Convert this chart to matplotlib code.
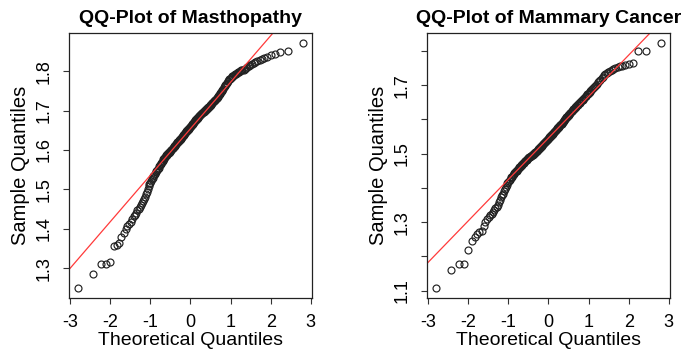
import numpy as np
import matplotlib
matplotlib.use("Agg")
import matplotlib.pyplot as plt
from statistics import NormalDist

plt.rcParams['font.family'] = ['Liberation Sans', 'DejaVu Sans']

# sorted sample values (n = 200 each)
masto_sample = [
    1.249, 1.284, 1.311, 1.311, 1.315, 1.356, 1.359, 1.363, 1.378, 1.388,
    1.399, 1.407, 1.413, 1.418, 1.424, 1.432, 1.436, 1.441, 1.448, 1.451,
    1.455, 1.460, 1.465, 1.470, 1.475, 1.480, 1.487, 1.494, 1.501, 1.508,
    1.513, 1.517, 1.521, 1.525, 1.529, 1.533, 1.537, 1.540, 1.543, 1.546,
    1.549, 1.552, 1.555, 1.558, 1.561, 1.564, 1.567, 1.570, 1.573, 1.576,
    1.578, 1.580, 1.582, 1.584, 1.586, 1.588, 1.590, 1.591, 1.593, 1.594,
    1.596, 1.597, 1.599, 1.601, 1.602, 1.604, 1.606, 1.607, 1.609, 1.611,
    1.613, 1.615, 1.616, 1.618, 1.619, 1.621, 1.622, 1.624, 1.626, 1.627,
    1.629, 1.631, 1.632, 1.634, 1.636, 1.637, 1.639, 1.640, 1.642, 1.643,
    1.645, 1.647, 1.648, 1.650, 1.651, 1.653, 1.654, 1.656, 1.658, 1.659,
    1.661, 1.662, 1.664, 1.665, 1.667, 1.668, 1.670, 1.672, 1.674, 1.675,
    1.676, 1.678, 1.679, 1.681, 1.682, 1.683, 1.685, 1.686, 1.688, 1.689,
    1.690, 1.692, 1.693, 1.695, 1.696, 1.697, 1.699, 1.700, 1.701, 1.702,
    1.703, 1.704, 1.706, 1.707, 1.709, 1.710, 1.712, 1.714, 1.715, 1.717,
    1.718, 1.720, 1.721, 1.723, 1.725, 1.726, 1.728, 1.730, 1.731, 1.733,
    1.735, 1.737, 1.739, 1.742, 1.744, 1.747, 1.750, 1.753, 1.756, 1.759,
    1.762, 1.765, 1.768, 1.771, 1.774, 1.776, 1.779, 1.781, 1.783, 1.785,
    1.787, 1.789, 1.791, 1.793, 1.794, 1.796, 1.797, 1.799, 1.800, 1.802,
    1.803, 1.804, 1.806, 1.808, 1.811, 1.814, 1.816, 1.818, 1.821, 1.824,
    1.827, 1.829, 1.832, 1.834, 1.837, 1.841, 1.844, 1.848, 1.851, 1.872,
]

cancer_sample = [
    1.107, 1.161, 1.178, 1.178, 1.219, 1.245, 1.258, 1.266, 1.271, 1.275,
    1.290, 1.300, 1.308, 1.315, 1.320, 1.324, 1.330, 1.335, 1.340, 1.345,
    1.351, 1.358, 1.366, 1.372, 1.378, 1.383, 1.390, 1.396, 1.402, 1.408,
    1.413, 1.417, 1.421, 1.424, 1.428, 1.431, 1.433, 1.437, 1.440, 1.443,
    1.446, 1.448, 1.450, 1.452, 1.455, 1.457, 1.460, 1.462, 1.464, 1.466,
    1.468, 1.470, 1.472, 1.474, 1.476, 1.478, 1.480, 1.481, 1.483, 1.485,
    1.486, 1.487, 1.489, 1.490, 1.491, 1.492, 1.494, 1.495, 1.496, 1.497,
    1.499, 1.500, 1.501, 1.503, 1.505, 1.506, 1.508, 1.509, 1.511, 1.513,
    1.514, 1.516, 1.517, 1.519, 1.520, 1.522, 1.523, 1.525, 1.527, 1.528,
    1.530, 1.531, 1.533, 1.534, 1.536, 1.537, 1.539, 1.540, 1.542, 1.543,
    1.546, 1.548, 1.550, 1.551, 1.553, 1.554, 1.556, 1.557, 1.559, 1.560,
    1.562, 1.564, 1.565, 1.567, 1.568, 1.570, 1.572, 1.574, 1.575, 1.577,
    1.579, 1.581, 1.583, 1.585, 1.587, 1.588, 1.590, 1.592, 1.594, 1.596,
    1.598, 1.600, 1.602, 1.604, 1.606, 1.608, 1.610, 1.612, 1.614, 1.617,
    1.619, 1.620, 1.622, 1.624, 1.626, 1.628, 1.630, 1.632, 1.634, 1.635,
    1.637, 1.639, 1.641, 1.643, 1.645, 1.647, 1.649, 1.651, 1.654, 1.656,
    1.658, 1.661, 1.663, 1.665, 1.668, 1.670, 1.673, 1.675, 1.677, 1.680,
    1.684, 1.687, 1.690, 1.693, 1.696, 1.699, 1.702, 1.705, 1.709, 1.713,
    1.716, 1.720, 1.725, 1.730, 1.733, 1.735, 1.739, 1.743, 1.745, 1.747,
    1.749, 1.752, 1.755, 1.756, 1.758, 1.761, 1.765, 1.800, 1.800, 1.824,
]

# reference lines (intercept, slope) as drawn in the picture
masto_line = (1.654, 0.118)
cancer_line = (1.546, 0.121)

titles = ["QQ-Plot of Masthopathy", "QQ-Plot of Mammary Cancer"]
x_ticks = [-3, -2, -1, 0, 1, 2, 3]
masto_yticks = [1.3, 1.4, 1.5, 1.6, 1.7, 1.8]
masto_ylabels = ["1.3", "1.4", "1.5", "1.6", "1.7", "1.8"]
cancer_yticks = [1.1, 1.2, 1.3, 1.4, 1.5, 1.6, 1.7, 1.8]
cancer_ylabels = ["1.1", "", "1.3", "", "1.5", "", "1.7", ""]


def theoretical(n):
    # same plotting positions as R's ppoints for n > 10
    nd = NormalDist()
    return np.array([nd.inv_cdf((i - 0.5) / n) for i in range(1, n + 1)])


def r_range(v):
    lo, hi = min(v), max(v)
    pad = 0.04 * (hi - lo)
    return lo - pad, hi + pad


def qq_panel(ax, sample, line, title, yticks, ylabels):
    y = np.array(sample)
    x = theoretical(len(y))
    ax.plot(x, y, linestyle='none', marker='o', markersize=5,
            markerfacecolor='none', markeredgecolor='#222222',
            markeredgewidth=0.85)
    ax.axline((0, line[0]), slope=line[1], color='#ff3a3a', lw=0.9)
    ax.set_xlim(*r_range(x))
    ax.set_ylim(*r_range(y))
    ax.set_xticks(x_ticks)
    ax.set_xticklabels([str(t) for t in x_ticks])
    ax.set_yticks(yticks)
    ax.set_yticklabels(ylabels, rotation=90, va='center')
    ax.tick_params(direction='out', length=4.5, width=0.8, labelsize=13,
                   pad=7, color='#333333')
    for s in ax.spines.values():
        s.set_linewidth(0.9)
        s.set_color('#222222')
    ax.set_title(title, fontsize=14, fontweight='bold', pad=7)
    ax.set_xlabel("Theoretical Quantiles", fontsize=14, labelpad=1)
    ax.set_ylabel("Sample Quantiles", fontsize=14.5, labelpad=4)


fig = plt.figure(figsize=(6.88, 3.61), dpi=100)
ax1 = fig.add_axes([69 / 688, 63 / 361, 243 / 688, 265 / 361])
ax2 = fig.add_axes([427 / 688, 63 / 361, 243 / 688, 265 / 361])

qq_panel(ax1, masto_sample, masto_line, titles[0], masto_yticks, masto_ylabels)
qq_panel(ax2, cancer_sample, cancer_line, titles[1], cancer_yticks, cancer_ylabels)

fig.savefig("out.png", dpi=100)
